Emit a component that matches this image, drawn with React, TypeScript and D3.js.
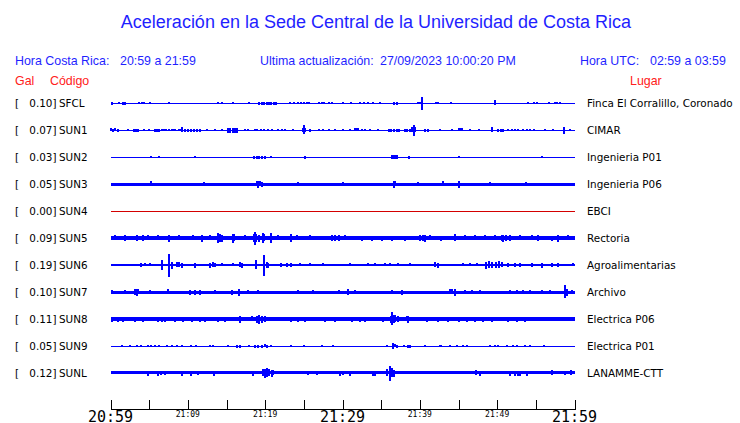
import React from "react";
import * as d3 from "d3";

// ---------- data ----------
const STATIONS = ["SFCL", "SUN1", "SUN2", "SUN3", "SUN4", "SUN5", "SUN6", "SUN7", "SUN8", "SUN9", "SUNL"];
const PEAK_GAL = ["0.10", "0.07", "0.03", "0.05", "0.00", "0.09", "0.19", "0.10", "0.11", "0.05", "0.12"];
const PLACES = [
  "Finca El Corralillo, Coronado",
  "CIMAR",
  "Ingenieria P01",
  "Ingenieria P06",
  "EBCI",
  "Rectoria",
  "Agroalimentarias",
  "Archivo",
  "Electrica P06",
  "Electrica P01",
  "LANAMME-CTT",
];
// baseline (background noise) half amplitude per station
const BASE_AMP = [0.5, 0.5, 0.5, 1.5, 0.5, 2, 1.2, 1.5, 1.8, 0.5, 1.7];
const TRACE_COLOR = ["b", "b", "b", "b", "r", "b", "b", "b", "b", "b", "b"];

// events: [minute since 20:59, half amplitude]
const SFCL: [number, number][] = [
  [0.15, 1.3], [1.14, 1], [1.6, 1.3], [1.9, 1.3], [3.73, 1], [4.03, 1], [4.33, 1], [5.15, 0.8], [7.6, 0.8],
  [13.86, 1], [14.46, 1], [15.9, 0.8], [17.95, 1], [19.25, 1.3], [19.6, 1.3], [19.9, 1.3], [20.2, 1.3],
  [20.5, 1.3], [20.8, 1.3], [21.1, 1.3], [21.35, 1.3], [23.25, 1], [23.77, 1], [24.2, 1], [24.6, 1.2],
  [25.0, 1.2], [25.35, 1.2], [25.7, 1.2], [27.0, 1.2], [27.3, 1.2], [27.6, 1.2], [28.2, 1.2], [28.7, 1.2],
  [30.1, 0.8], [31.05, 0.8], [32.2, 1], [32.8, 1], [33.3, 1], [33.9, 1], [34.9, 1], [36.6, 1.3], [37.0, 1.3],
  [39.7, 1], [40.0, 1], [40.3, 6.5], [42.05, 1.2], [42.4, 1.2], [44.0, 1], [49.7, 2.7], [53.95, 1.2],
  [54.8, 1.2], [55.15, 1.2], [56.75, 1.2], [57.5, 1.2], [57.8, 1.2], [58.1, 1.2],
];
const SUN1: [number, number][] = [
  [0.05, 1.7], [0.35, 1.3], [0.6, 1.7], [1.0, 1.3], [2.2, 1], [3.1, 1.3], [3.3, 1.3], [3.5, 1.3], [4.35, 1.2],
  [5.0, 0.8], [5.75, 1.3], [5.95, 1.3], [6.2, 1.3], [6.3, 1.3], [6.7, 1.2], [6.95, 1.2], [7.2, 1.2],
  [7.6, 1], [7.9, 1], [8.2, 1], [8.4, 1], [8.8, 1], [9.1, 1], [9.3, 2.7], [9.6, 1.3], [10.0, 1.3], [10.4, 1.3],
  [10.8, 1.3], [11.2, 1.3], [11.6, 1.3], [12.45, 1], [13.5, 1], [14.4, 1.2], [15.2, 2.3], [15.5, 2.3],
  [15.8, 2.3], [16.1, 2.3], [16.4, 2.3], [17.4, 1], [17.8, 1], [18.7, 1.2], [19.0, 1.2], [19.4, 1.2],
  [19.8, 1.2], [20.4, 1], [20.9, 1], [21.7, 1.2], [22.2, 1.2], [22.6, 1], [23.65, 0.8], [24.85, 2],
  [25.0, 4.7], [25.15, 2], [25.8, 1.3], [26.9, 1], [27.5, 1], [28.2, 1.2], [29.0, 1], [30.0, 0.8], [30.95, 1],
  [31.6, 1.7], [31.8, 1.7], [32.05, 1.7], [32.5, 1.2], [32.9, 1.2], [33.55, 1.2], [34.6, 1], [36.0, 1.5],
  [36.3, 1.5], [36.7, 1.5], [37.0, 1.5], [37.3, 1.5], [38.1, 1.3], [38.4, 1.3], [38.7, 1.3], [38.95, 2.7],
  [39.2, 5.3], [39.4, 2.7], [40.7, 1.5], [41.0, 1.5], [42.6, 1], [44.1, 1], [45.0, 1.7], [45.3, 1.7],
  [45.5, 1.7], [46.5, 0.8], [47.6, 0.8], [49.3, 2.7], [50.15, 1.3], [50.5, 1.3], [50.8, 1.3], [51.45, 1.2],
  [51.9, 1.2], [52.3, 1.2], [52.75, 1], [53.4, 1.2], [53.8, 1.2], [54.25, 1.2], [54.7, 1.2], [56.2, 0.8],
  [57.25, 1], [58.7, 3.3], [59.4, 1],
];
const SUN2: [number, number][] = [
  [5.3, 0.8], [6.3, 1], [10.9, 1], [18.6, 1.3], [18.9, 1.3], [19.2, 1.3], [19.6, 1.3], [20.0, 1.3],
  [20.7, 0.8], [25.1, 1.5], [36.4, 2], [36.6, 2], [36.8, 2], [37.0, 2], [38.6, 1.3], [45.1, 0.8], [55.8, 0.8],
];
const SUN3: [number, number][] = [
  [5.2, 2.7], [12.1, 2], [18.9, 2.7], [19.1, 3.3], [19.3, 2.7], [19.55, 2.3], [24.2, 2], [30.0, 2],
  [36.6, 3.3], [36.8, 2.7], [39.8, 2], [43.0, 2.7], [45.1, 3.3], [49.1, 2], [53.7, 2],
];
const SUN4: [number, number][] = [];
const SUN5: [number, number][] = [
  [0.6, 2.7], [1.9, 3], [3.4, 3], [4.25, 3], [4.9, 2.7], [6.2, 2.7], [7.5, 3.3], [8.8, 2.7], [10.7, 2.7],
  [11.8, 3.3], [12.9, 2.7], [13.9, 5], [14.1, 4], [14.4, 3.3], [15.8, 4.3], [15.95, 3.7], [17.4, 2.7],
  [18.6, 4], [18.7, 6.5], [18.85, 4], [19.2, 3.3], [19.7, 5], [19.8, 3.7], [20.7, 5], [21.7, 2.7],
  [23.3, 4], [23.4, 3.3], [24.1, 2.7], [25.8, 2.7], [28.6, 3], [29.0, 3], [29.5, 3], [30.3, 2.7],
  [32.5, 2.3], [33.8, 2.3], [35.1, 2.3], [36.4, 2.3], [38.1, 2.3], [40.0, 3], [40.4, 3], [40.7, 3.3],
  [41.3, 2.7], [42.8, 2.3], [44.6, 3.7], [45.8, 2.7], [47.1, 2.7], [48.4, 2.7], [49.7, 2.7], [50.6, 3],
  [50.8, 3.3], [51.1, 3], [51.7, 3], [53.0, 2.7], [54.5, 2.7], [55.3, 3], [57.05, 2.3], [57.9, 3.3],
  [59.2, 2.7],
];
const SUN6: [number, number][] = [
  [3.95, 2], [4.5, 1.7], [5.1, 1.7], [6.6, 5], [7.5, 11.5], [7.9, 3.3], [8.55, 2.7], [8.85, 2.7], [9.2, 2.3],
  [10.9, 2.3], [12.9, 2.3], [13.2, 2.7], [13.5, 2], [14.4, 1.7], [15.9, 1.7], [16.75, 2.7], [17.05, 2.3],
  [18.8, 4.7], [19.9, 10.3], [20.2, 3], [20.4, 2.3], [22.1, 2], [22.8, 2], [23.4, 2], [24.5, 1.7],
  [25.8, 1.7], [27.5, 1.7], [31.0, 1.7], [33.35, 1.7], [34.2, 1.7], [35.5, 1.7], [36.2, 1.7], [37.2, 1.7],
  [38.7, 1.7], [42.0, 2.7], [42.3, 2.3], [45.6, 1.7], [46.5, 1.7], [47.35, 1.7], [48.6, 3.3], [48.9, 3.7],
  [49.3, 3], [49.9, 3], [50.3, 3.7], [50.6, 2.7], [51.45, 2], [52.3, 2], [53.0, 2], [54.5, 2], [55.75, 2.3],
  [57.05, 2], [57.9, 2], [59.85, 1.7],
];
const SUN7: [number, number][] = [
  [0.15, 2], [1.9, 2], [3.2, 3], [3.4, 3.3], [3.6, 2.7], [5.1, 2], [7.4, 2.7], [10.3, 2.3], [10.9, 2.3],
  [11.6, 2.3], [13.5, 2], [15.7, 2.3], [16.6, 3.3], [17.8, 2], [19.1, 2], [24.3, 2], [26.2, 2], [29.5, 2],
  [30.75, 3], [31.6, 2], [36.4, 2], [37.7, 2.3], [43.9, 2.7], [44.2, 2.7], [44.55, 3.3], [45.8, 2],
  [46.7, 2], [47.8, 2], [51.7, 2], [52.5, 2], [53.4, 2], [54.25, 2], [55.75, 2], [56.8, 2], [58.8, 6.7],
  [59.0, 3.3], [59.65, 2],
];
const SUN8: [number, number][] = [
  [0.15, 2.3], [1.0, 2.3], [1.65, 2.3], [3.2, 2.3], [4.25, 2.3], [6.2, 2.3], [6.6, 2.3], [7.05, 2.3],
  [8.35, 2.3], [9.4, 2.3], [10.5, 2.3], [11.6, 2.3], [12.2, 2.3], [13.95, 2.3], [14.8, 2.3], [16.75, 3.3],
  [18.25, 2.7], [18.9, 3.3], [19.2, 4.3], [19.55, 3.3], [20.0, 3], [23.4, 2.3], [24.3, 2.3], [25.15, 2.3],
  [27.7, 2.3], [29.0, 2.3], [31.2, 2.3], [32.3, 2.3], [32.9, 2.3], [35.3, 2.3], [36.3, 3.5], [36.45, 6.7],
  [36.6, 4], [36.8, 3.7], [37.2, 3], [38.3, 2.7], [38.5, 3.3], [40.9, 2.3], [42.4, 2.3], [43.7, 2.3],
  [45.0, 2.3], [46.05, 2.3], [47.1, 2.3], [48.2, 2.3], [49.3, 2.3], [51.45, 2.3], [52.5, 2.3], [53.6, 2.3],
];
const SUN9: [number, number][] = [
  [1.45, 0.8], [2.5, 1.2], [3.4, 0.8], [4.0, 1], [4.8, 1], [5.3, 1], [5.75, 1], [6.3, 1], [7.35, 1], [7.9, 1],
  [8.55, 1], [9.2, 1], [10.35, 1.2], [11.1, 1.2], [12.85, 1], [13.3, 1], [15.2, 1], [16.3, 1.3], [16.75, 1.3],
  [17.9, 1], [18.7, 1.3], [19.1, 1.3], [19.55, 1.3], [20.0, 1.7], [20.2, 1.3], [20.75, 1], [23.4, 0.8],
  [25.0, 0.8], [27.3, 0.8], [28.8, 0.8], [35.7, 1.2], [36.5, 3], [36.8, 1.7], [37.0, 1.3], [37.9, 1],
  [38.5, 1.3], [38.7, 1.3], [40.7, 0.8], [42.6, 1.2], [42.8, 1], [43.9, 0.8], [44.8, 0.8], [45.6, 1],
  [46.05, 1], [49.1, 0.8], [49.7, 1], [50.15, 0.8], [51.3, 1.2], [52.0, 1], [52.6, 0.8], [53.6, 1],
  [54.3, 1], [56.0, 1],
];
const SUNL: [number, number][] = [
  [4.9, 2.3], [6.1, 2.3], [6.5, 2], [7.0, 2], [9.2, 2.3], [10.45, 2.3], [11.35, 2], [13.4, 2.3], [18.4, 2.3],
  [19.75, 3.7], [20.0, 4.3], [20.3, 4.7], [20.55, 3.7], [20.85, 3.3], [21.05, 2.7], [25.5, 2], [26.75, 2],
  [29.7, 2.3], [30.1, 2], [31.0, 2.3], [34.0, 2.3], [34.2, 2.3], [35.8, 3.7], [36.15, 7.3], [36.4, 4.7],
  [36.6, 3.3], [47.2, 2.7], [47.8, 2.3], [51.65, 2.3], [52.3, 2.3], [52.7, 2.3], [52.95, 2.3], [53.8, 2.3],
  [57.05, 2.7], [58.75, 2], [59.6, 2.7],
];
const EVENTS = [SFCL, SUN1, SUN2, SUN3, SUN4, SUN5, SUN6, SUN7, SUN8, SUN9, SUNL];

const TICK_MINUTES = [0, 5, 10, 15, 20, 25, 30, 35, 40, 45, 50, 55, 60];
const MAJOR_LABELS: [number, string][] = [[0, "20:59"], [30, "21:29"], [60, "21:59"]];
const MINOR_LABELS: [number, string][] = [[10, "21:09"], [20, "21:19"], [40, "21:39"], [50, "21:49"]];

const TITLE = "Aceleración en la Sede Central de la Universidad de Costa Rica";

// ---------- layout ----------
const W = 740;
const H = 423;
const BLUE = "#1f1fff";
const RED = "#ff2020";
const TRACE_BLUE = "#0000ff";
const TRACE_RED = "#d40000";

export default function App() {
  const x = d3.scaleLinear().domain([0, 60]).range([110.5, 574.5]);
  const row = d3.scaleLinear().domain([0, 10]).range([103, 373]);
  const amp = d3.scaleLinear().domain([0, 1]).range([0, 1]);
  const labelFont = "'DejaVu Sans', sans-serif";
  const headFont = "'Liberation Sans', Arial, sans-serif";

  return (
    <svg
      width={W}
      height={H}
      style={{ position: "absolute", left: 0, top: 0, background: "#fff" }}
    >
      <rect width={W} height={H} fill="#fff" />
      <text x={376} y={28} textAnchor="middle" fontFamily={headFont} fontSize={18} fill={BLUE}>
        {TITLE}
      </text>

      <g fontFamily={headFont} fontSize={12.4} fill={BLUE}>
        <text x={15} y={65}>Hora Costa Rica:</text>
        <text x={120} y={65}>20:59 a 21:59</text>
        <text x={260} y={65}>Ultima actualización:</text>
        <text x={380} y={65}>27/09/2023 10:00:20 PM</text>
        <text x={580} y={65}>Hora UTC:</text>
        <text x={650} y={65}>02:59 a 03:59</text>
      </g>
      <g fontFamily={headFont} fontSize={12.4} fill={RED}>
        <text x={15} y={85}>Gal</text>
        <text x={50} y={85}>Código</text>
        <text x={630} y={85}>Lugar</text>
      </g>

      {STATIONS.map((st, i) => {
        const cy = row(i);
        const base = amp(BASE_AMP[i]);
        const color = TRACE_COLOR[i] === "r" ? TRACE_RED : TRACE_BLUE;
        return (
          <g key={st}>
            <g fontFamily={labelFont} fontSize={10.4} fill="#000">
              <text x={15} y={cy + 4}>[</text>
              <text x={56.5} y={cy + 4} textAnchor="end">{PEAK_GAL[i]}]</text>
              <text x={59} y={cy + 4}>{st}</text>
              <text x={587} y={cy + 4}>{PLACES[i]}</text>
            </g>
            <g fill={color} shapeRendering="crispEdges">
              <rect
                x={x(0)}
                width={x(60) - x(0)}
                y={Math.round(cy - base)}
                height={Math.max(1, Math.round(2 * base))}
              />
              {EVENTS[i].map(([m, a], j) => {
                const h = amp(a);
                return (
                  <rect
                    key={j}
                    x={Math.round(x(m)) - 1}
                    width={2}
                    y={Math.round(cy - h)}
                    height={Math.max(1, Math.round(2 * h))}
                  />
                );
              })}
            </g>
          </g>
        );
      })}

      <g stroke="#000" strokeWidth={1} shapeRendering="crispEdges">
        <line x1={x(0)} x2={x(60)} y1={409.5} y2={409.5} />
        {TICK_MINUTES.map((m) => (
          <line key={m} x1={Math.round(x(m)) + 0.5} x2={Math.round(x(m)) + 0.5} y1={409.5} y2={400} />
        ))}
      </g>
      <g fontFamily="'DejaVu Sans Mono', monospace" fill="#000" textAnchor="middle">
        {MAJOR_LABELS.map(([m, l]) => (
          <text key={l} x={x(m)} y={421.5} fontSize={15}>{l}</text>
        ))}
        {MINOR_LABELS.map(([m, l]) => (
          <text key={l} x={x(m)} y={416.5} fontSize={8}>{l}</text>
        ))}
      </g>
    </svg>
  );
}
